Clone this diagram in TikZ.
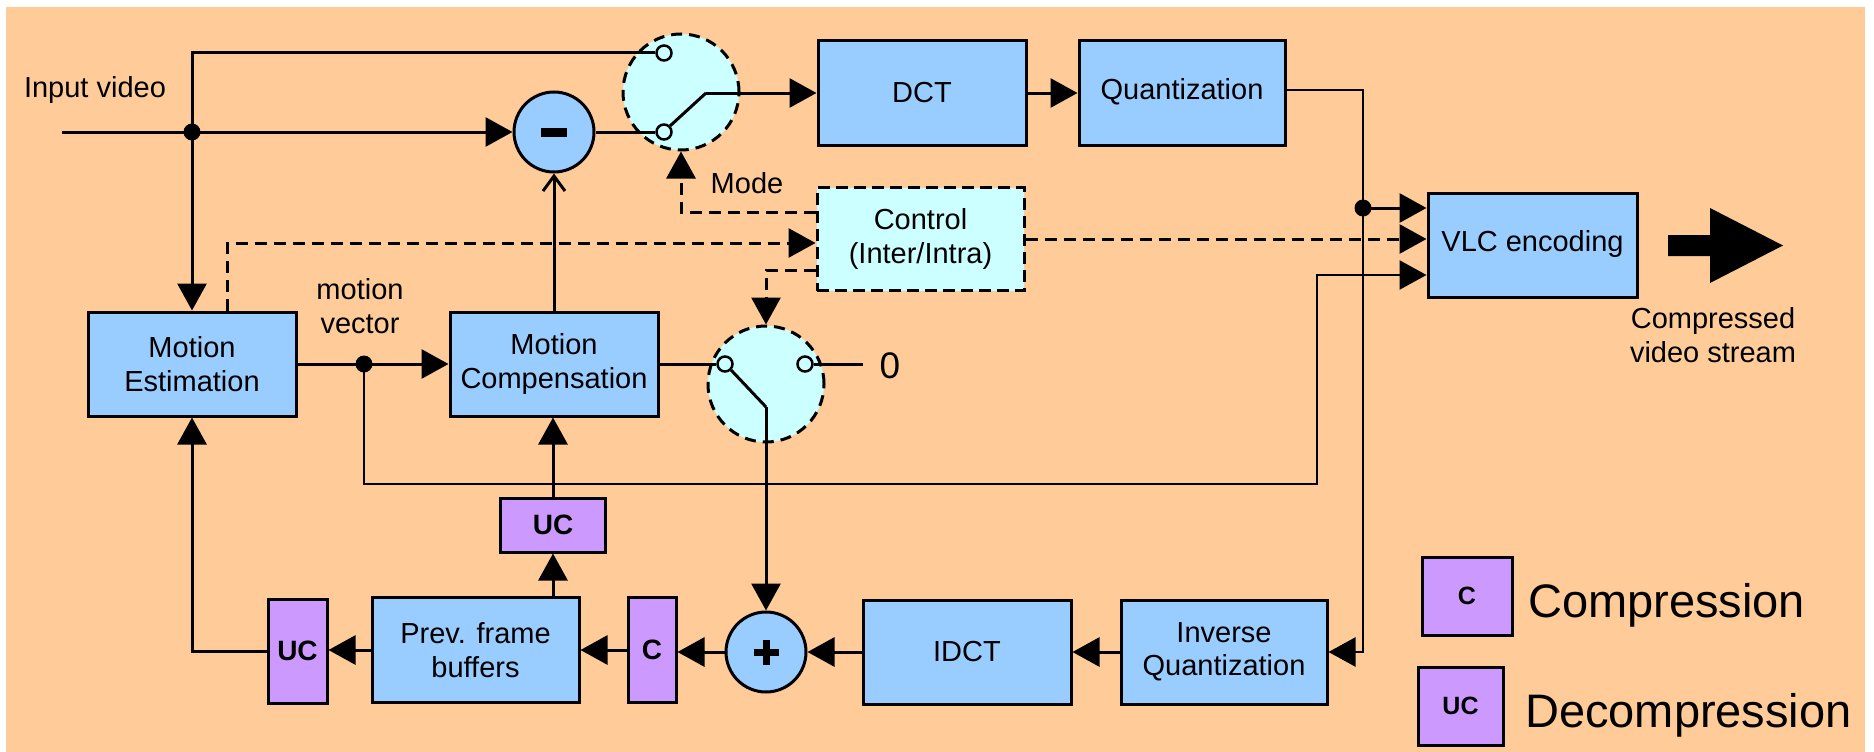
\documentclass[tikz,border=0pt]{standalone}
\usepackage{fontspec}
\setmainfont{Liberation Sans}
\usetikzlibrary{arrows.meta}
\definecolor{peach}{HTML}{FFCC99}
\definecolor{boxblue}{HTML}{99CCFF}
\definecolor{ltcyan}{HTML}{CCFFFF}
\definecolor{lilac}{HTML}{CC99FF}
\tikzset{
  txt/.style={font=\fontsize{29}{33.5}\selectfont, align=center, inner sep=0pt},
  blk/.style={txt, draw, line width=3pt, fill=boxblue, minimum width=208pt, minimum height=104pt},
  ctrlbox/.style={txt, draw, line width=3pt, fill=ltcyan, dash pattern=on 12pt off 6pt, minimum width=207pt, minimum height=103pt},
  pbox/.style={draw, line width=3pt, fill=lilac, inner sep=0pt, font=\fontsize{28}{30}\selectfont\bfseries},
  circ/.style={circle, draw, line width=3pt, fill=boxblue, minimum size=80pt, inner sep=0pt},
  swc/.style={circle, draw, line width=3pt, fill=ltcyan, dash pattern=on 11pt off 7pt, minimum size=116pt, inner sep=0pt},
  term/.style={circle, draw, line width=2.5pt, fill=ltcyan, minimum size=15pt, inner sep=0pt},
  jdot/.style={circle, fill=black, minimum size=17pt, inner sep=0pt},
  ln/.style={line width=3pt},
  thinln/.style={line width=2.5pt},
  arr/.style={-{Triangle[length=27pt,width=29pt]}},
  openarr/.style={-{Straight Barb[length=15pt,width=22pt]}},
  dsh/.style={dash pattern=on 12pt off 7pt},
}
\begin{document}
\begin{tikzpicture}[x=1pt,y=-1pt]
\useasboundingbox (0,0) rectangle (1874,752);
\fill[white] (0,0) rectangle (1874,752);
\fill[peach] (6,7) rectangle (1865,752);

% switches (drawn first so lines sit on top)
\node[swc] (sw1) at (681,92) {};
\node[swc] (sw2) at (766,384) {};

% blocks
\node[blk] (me) at (192,364) {Motion\\Estimation};
\node[blk] (mc) at (554,364) {Motion\\Compensation};
\node[blk] (dct) at (922,93) {DCT};
\node[blk, minimum width=206pt, minimum height=105pt] (q) at (1182,93) {\raisebox{8pt}{Quantization}};
\node[blk, minimum width=209pt] (vlc) at (1532.5,245) {\raisebox{9pt}{VLC encoding}};
\node[blk] (idct) at (967,652) {IDCT};
\node[blk, minimum width=206pt] (iq) at (1224,652) {Inverse\\Quantization};
\node[blk, minimum width=207pt, minimum height=105pt] (prev) at (475.5,650) {Prev. frame\\buffers};
\node[ctrlbox] (ctrl) at (920.5,239) {Control\\(Inter/Intra)};

\node[pbox, minimum width=48pt, minimum height=105pt] (cc) at (652,650) {C};
\node[pbox, minimum width=59pt, minimum height=104pt] (ucl) at (297.5,651) {UC};
\node[pbox, minimum width=105pt, minimum height=54pt] (uct) at (553,525) {UC};

\node[circ] (minus) at (554,132) {\rule[-4.5pt]{26pt}{9pt}};
\node[circ] (plus) at (766,652) {};
\draw[line width=7pt] ([xshift=-12.5pt]plus.center) -- ([xshift=12.5pt]plus.center);
\draw[line width=7pt] ([yshift=-12.5pt]plus.center) -- ([yshift=12.5pt]plus.center);

% junction dots, switch terminals and free ends
\node[jdot] (j1) at (192,132) {};
\node[jdot] (j2) at (364,364) {};
\node[jdot] (j3) at (1363,208) {};
\node[term] (t1a) at (664,53) {};
\node[term] (t1b) at (664,132) {};
\node[term] (t2a) at (725,364) {};
\node[term] (t2b) at (805,364) {};
\coordinate (in) at (62,132);
\coordinate (p1) at (706,93);
\coordinate (p2) at (766,407);
\coordinate (z) at (863,364);
\coordinate (lp) at (1317,484);

% solid connectors
\draw[ln, arr] (in) -- (minus.west);
\draw[ln] (j1.center) |- (t1a.west);
\draw[ln, arr] (j1.center) -- (me.north);
\draw[ln] (minus.east) -- (t1b.west);
\draw[ln] (t1b.north east) -- (p1);
\draw[ln] (t2b.east) -- (z);
\draw[ln] (t2a.south east) -- (p2);
\draw[ln] (mc.east) -- (t2a.west);

\draw[ln, arr] (p1) -- (dct.west);
\draw[ln, arr] (dct.east) -- (q.west);
\draw[thinln, arr] ([yshift=3pt]q.east) -| (j3.center) |- (iq.east);
\draw[ln, arr] (j3.center) -- (vlc.west |- j3);
\draw[ln, arr] (me.east) -- (mc.west);
\draw[ln, openarr] (mc.north) -- (minus.south);
\draw[thinln, arr] (j2.center) |- (lp) |- ([yshift=-30pt]vlc.west);
\draw[ln, arr] (p2) -- (plus.north);
\draw[ln, arr] (iq.west) -- (idct.east);
\draw[ln, arr] (idct.west) -- (plus.east);
\draw[ln, arr] (plus.west) -- (cc.east |- plus.west);
\draw[ln, arr] (cc.west) -- (prev.east |- cc.west);
\draw[ln, arr] (prev.west) -- (ucl.east |- prev.west);
\draw[ln, arr] (ucl.west) -| (me.south);
\draw[ln, arr] (uct.south |- prev.north) -- (uct.south);
\draw[ln, arr] (uct.north) -- (uct.north |- mc.south);

% dashed control connectors
\draw[ln, dsh, arr] ([xshift=35pt]me.north) |- ([yshift=-4pt]ctrl.west);
\draw[ln, dsh, arr] ([yshift=27pt]ctrl.west) -| (sw1.south);
\draw[ln, dsh, arr] ([yshift=-31pt]ctrl.west) -| (sw2.north);
\draw[ln, dsh, arr] (ctrl.east) -- (vlc.west |- ctrl.east);

% output arrow
\fill (1668,235) -- (1710,235) -- (1710,208) -- (1783,245.5) -- (1710,283) -- (1710,256) -- (1668,256) -- cycle;

% labels
\node[txt] (iv) at (95,90) {Input video};
\node[txt] (mode) at (747,183) {Mode};
\node[txt] (mv) at (360,306) {motion\\vector};
\node[txt] (cvs) at (1713,335) {Compressed\\video stream};
\node[inner sep=0pt, font=\fontsize{37}{40}\selectfont] (zero) at (890,366) {0};

% legend
\node[pbox, minimum width=90pt, minimum height=78pt, font=\fontsize{25}{28}\selectfont\bfseries] (legc) at (1467,596) {C};
\node[pbox, minimum width=85pt, minimum height=78pt, font=\fontsize{25}{28}\selectfont\bfseries] (leguc) at (1460.5,706) {UC};
\node[anchor=base west, inner sep=0pt, font=\fontsize{47}{50}\selectfont] (lt1) at (1528,617) {Compression};
\node[anchor=base west, inner sep=0pt, font=\fontsize{47}{50}\selectfont] (lt2) at (1525,727) {Decompression};
\end{tikzpicture}
\end{document}
